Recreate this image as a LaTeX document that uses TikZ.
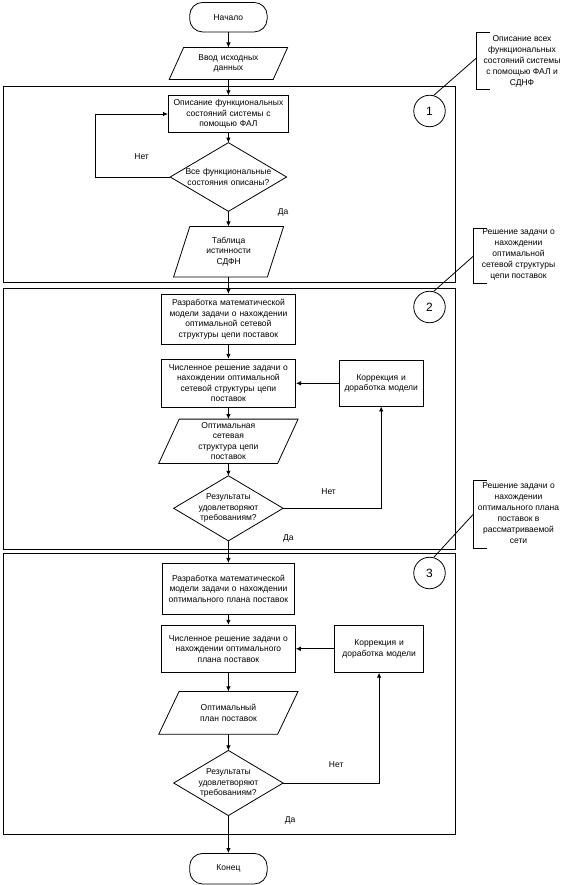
\documentclass[tikz,border=0pt]{standalone}
\usepackage{fontspec}
\setmainfont{Liberation Sans}
\usetikzlibrary{arrows.meta,calc}
\newcommand\dfont{\fontsize{8.5}{10.5}\selectfont}
\newcommand\nfont{\fontsize{8.5}{11}\selectfont}
\begin{document}
\begin{tikzpicture}[x=1pt,y=-1pt,
  every node/.style={font=\dfont, inner sep=0pt, align=center},
  blk/.style 2 args={minimum width=#1pt, text width=#1pt, minimum height=#2pt},
  proc/.style={draw, line width=0.8pt},
  term/.style={draw, rounded corners=13pt, line width=0.8pt},
  shp/.style={draw, line width=0.8pt},
  arr/.style={line width=0.8pt, -{Latex[length=5pt,width=4.5pt]}},
  ln/.style={line width=0.8pt},
  frame/.style={draw, line width=1pt},
  num/.style={draw, circle, minimum size=31.5pt, line width=0.8pt, font=\fontsize{12}{14}\selectfont},
  note/.style={font=\nfont, align=center}
]
\useasboundingbox (0,0) rectangle (565,885);

% frames
\draw[frame] (3,86.7) rectangle (455,282.3);
\draw[frame] (3,288.5) rectangle (455,549.3);
\draw[frame] (3,553.3) rectangle (455,834);

% main column
\node[term, blk={77.5}{29.5}] (start) at (228.4,17.2) {Начало};

\node[blk={118}{31.6}] (in1) at (228.4,63.5) {Ввод исходных\\данных};
\draw[shp] (in1.south west) -- ($(in1.south east)+(-14.4,0)$) -- (in1.north east) -- ($(in1.north west)+(14.4,0)$) -- cycle;

\node[proc, blk={120}{36.6}] (r1) at (228.4,114) {Описание функциональных\\состояний системы с\\помощью ФАЛ};

\node[blk={116}{68.3}] (d1) at (228.4,177) {Все функциональные\\состояния описаны?};
\draw[shp] (d1.north) -- (d1.east) -- (d1.south) -- (d1.west) -- cycle;

\node[blk={109.6}{50}] (t1) at (228.6,251.7) {Таблица\\истинности\\СДФН};
\draw[shp] (t1.south west) -- ($(t1.south east)+(-16.2,0)$) -- (t1.north east) -- ($(t1.north west)+(16.2,0)$) -- cycle;

\node[proc, blk={134.4}{49.7}] (r2) at (228.4,319.2) {Разработка математической\\модели задачи о нахождении\\оптимальной сетевой\\структуры цепи поставок};

\node[proc, blk={134.4}{48}] (r3) at (228.4,383.3) {Численное решение задачи о\\нахождении оптимальной\\сетевой структуры цепи\\поставок};

\node[proc, blk={84}{45.4}] (k2) at (381.2,383.3) {Коррекция и\\доработка модели};

\node[blk={139}{44}] (p2) at (228.4,441.3) {Оптимальная\\сетевая\\структура цепи\\поставок};
\draw[shp] (p2.south west) -- ($(p2.south east)+(-20.5,0)$) -- (p2.north east) -- ($(p2.north west)+(20.5,0)$) -- cycle;

\node[blk={109}{64.7}] (d2) at (228.4,508.3) {Результаты\\удовлетворяют\\требованиям?};
\draw[shp] (d2.north) -- (d2.east) -- (d2.south) -- (d2.west) -- cycle;

\node[proc, blk={132}{50.7}] (r4) at (228.4,588.7) {Разработка математической\\модели задачи о нахождении\\оптимального плана поставок};

\node[proc, blk={134}{47}] (r5) at (228.4,648.8) {Численное решение задачи о\\нахождении оптимального\\плана поставок};

\node[proc, blk={89.4}{47}] (k3) at (379.1,648.8) {Коррекция и\\доработка модели};

\node[blk={138.8}{42.3}] (p3) at (228.4,712.8) {Оптимальный\\план поставок};
\draw[shp] (p3.south west) -- ($(p3.south east)+(-20.3,0)$) -- (p3.north east) -- ($(p3.north west)+(20.3,0)$) -- cycle;

\node[blk={109}{64.7}] (d3) at (228.4,783) {Результаты\\удовлетворяют\\требованиям?};
\draw[shp] (d3.north) -- (d3.east) -- (d3.south) -- (d3.west) -- cycle;

\node[term, blk={77.5}{30.6}] (end) at (228.4,868.7) {Конец};

% connectors
\draw[arr] (start) -- (in1);
\draw[arr] (in1) -- (r1);
\draw[arr] (r1) -- (d1.north);
\draw[arr] (d1.south) -- (t1.north -| d1.south);
\draw[arr] (d1.west) -- ++(-75,0) |- (r1.west);
\draw[arr] (t1.south -| r2.north) -- (r2);
\draw[arr] (r2) -- (r3);
\draw[arr] (k2.west) -- (k2.west -| r3.east);
\draw[arr] (r3) -- (p2);
\draw[arr] (p2) -- (d2.north);
\draw[arr] (d2.east) -| (k2.south);
\draw[arr] (d2.south) -- (r4);
\draw[arr] (r4) -- (r5);
\draw[arr] (k3.west) -- (k3.west -| r5.east);
\draw[arr] (r5) -- (p3);
\draw[arr] (p3) -- (d3.north);
\draw[arr] (d3.east) -| (k3.south);
\draw[arr] (d3.south) -- (end);

% labels
\node (no1) at (141.6,157) {Нет};
\node (yes1) at (283,212) {Да};
\node (no2) at (328.6,492) {Нет};
\node (yes2) at (288.3,538.3) {Да};
\node (no3) at (336.2,765) {Нет};
\node (yes3) at (290.1,820) {Да};

% numbered circles and notes
\node[num] (c1) at (429.5,111) {1};
\node[num] (c2) at (429.5,307) {2};
\node[num] (c3) at (429.5,573) {3};

\node[note] (n1) at (522,61) {Описание всех\\функциональных\\состояний системы\\с помощью ФАЛ и\\СДНФ};
\node[note] (n2) at (518.5,254) {Решение задачи о\\нахождении\\оптимальной\\сетевой структуры\\цепи поставок};
\node[note] (n3) at (518.5,513.4) {Решение задачи о\\нахождении\\оптимального плана\\поставок в\\рассматриваемой\\сети};

\coordinate (b1) at (476.4,58);
\coordinate (b2) at (473.5,256);
\coordinate (b3) at (473.5,514);
\draw[ln] (490,32) -- (476.4,32) -- (476.4,89) -- (490,89);
\draw[ln] (487,228.7) -- (473.5,228.7) -- (473.5,283.3) -- (487,283.3);
\draw[ln] (487,480) -- (473.5,480) -- (473.5,548.3) -- (487,548.3);
\draw[ln] (c1.75) -- (b1);
\draw[ln] (c2.75) -- (b2);
\draw[ln] (c3.75) -- (b3);
\end{tikzpicture}
\end{document}
